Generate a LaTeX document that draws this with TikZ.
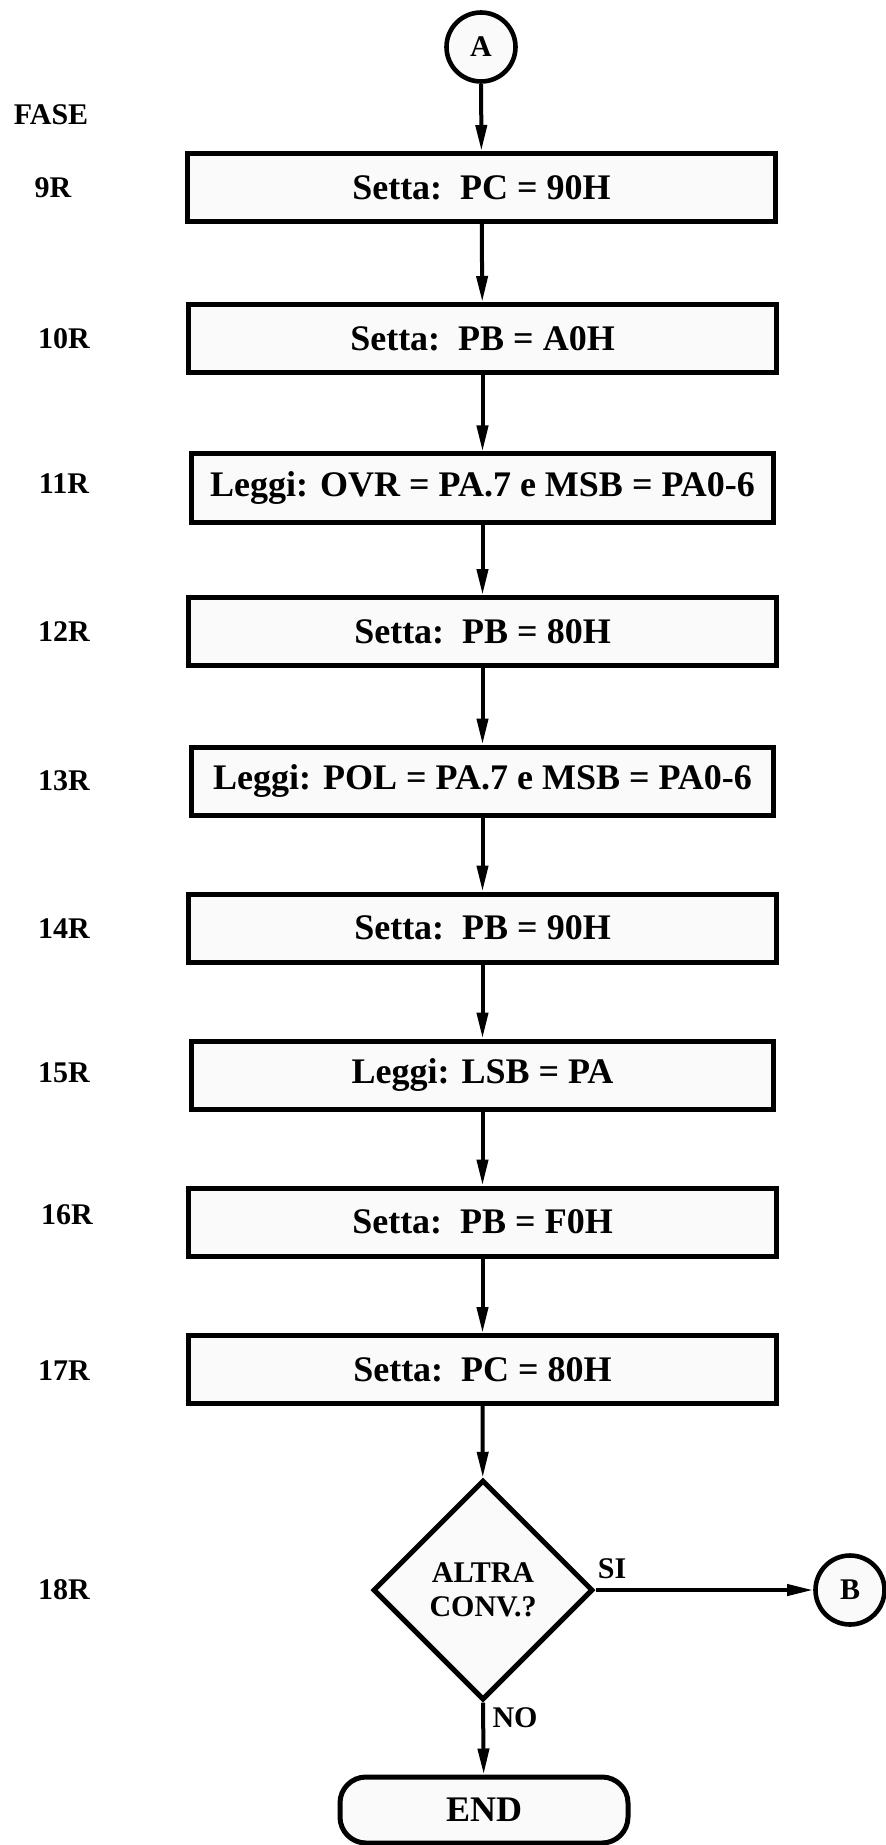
\documentclass[tikz,border=0pt]{standalone}
\usepackage{fontspec}
\setmainfont{Liberation Serif}
\usetikzlibrary{arrows.meta,shapes.geometric}
\tikzset{
  stepbox/.style={rectangle, draw=black, fill=gray!4, line width=2.5pt, minimum width=294pt, minimum height=34pt, inner sep=1pt, font=\bfseries\fontsize{18}{20}\selectfont},
  narrowbox/.style={stepbox, minimum width=291pt},
  fase/.style={font=\bfseries\fontsize{15}{17}\selectfont, inner sep=0pt},
  conn/.style={circle, draw=black, fill=gray!4, line width=2.3pt, minimum size=34.5pt, inner sep=0pt, font=\bfseries\fontsize{15}{17}\selectfont},
  decision/.style={diamond, aspect=1, draw=black, fill=gray!4, line width=2.5pt, minimum size=110pt, inner sep=0pt, align=center, font=\bfseries\fontsize{15}{17}\selectfont},
  terminal/.style={rectangle, rounded corners=13pt, draw=black, fill=gray!4, line width=2.5pt, minimum width=144pt, minimum height=33pt, font=\bfseries\fontsize{18}{20}\selectfont},
  arrow/.style={-{Triangle[length=13pt, width=5.5pt]}, line width=2pt},
  lbl/.style={font=\bfseries\fontsize{15}{17}\selectfont, inner sep=0pt}
}
\begin{document}
\begin{tikzpicture}[x=0.5pt, y=-0.5pt]
  \useasboundingbox (0,0) rectangle (885,1845);
  \node[conn] (A) at (481,47) {A};
  \node[fase] (lfase) at (51,115) {FASE};
  \node[stepbox] (b9) at (481.5,187.5) {Setta:\ \ PC = 90H};
  \node[fase] (l9) at (53,188) {9R};
  \node[stepbox] (b10) at (482.5,338.5) {Setta:\ \ PB = A0H};
  \node[fase] (l10) at (64,339) {10R};
  \node[narrowbox] (b11) at (482.5,488) {Leggi: OVR = PA.7 e MSB = PA0-6};
  \node[fase] (l11) at (64,484) {11R};
  \node[stepbox] (b12) at (482.5,631.5) {Setta:\ \ PB = 80H};
  \node[fase] (l12) at (64,632) {12R};
  \node[narrowbox] (b13) at (482.5,781) {Leggi: POL = PA.7 e MSB = PA0-6};
  \node[fase] (l13) at (64,781) {13R};
  \node[stepbox] (b14) at (482.5,928) {Setta:\ \ PB = 90H};
  \node[fase] (l14) at (64,929) {14R};
  \node[narrowbox] (b15) at (482.5,1075) {Leggi: LSB = PA};
  \node[fase] (l15) at (64,1073) {15R};
  \node[stepbox] (b16) at (482.5,1222) {Setta:\ \ PB = F0H};
  \node[fase] (l16) at (67,1215) {16R};
  \node[stepbox] (b17) at (482.5,1369.5) {Setta:\ \ PC = 80H};
  \node[fase] (l17) at (64,1371) {17R};
  \node[decision] (q) at (483,1590) {ALTRA\\CONV.?};
  \node[fase] (l18) at (64,1590) {18R};
  \node[conn] (B) at (850,1590) {B};
  \node[terminal] (e) at (484,1810) {END};
  \node[lbl] (si) at (612,1569) {SI};
  \node[lbl] (no) at (515,1718) {NO};
  \draw[arrow] (A)--(b9); \draw[arrow] (b9)--(b10); \draw[arrow] (b10)--(b11);
  \draw[arrow] (b11)--(b12); \draw[arrow] (b12)--(b13); \draw[arrow] (b13)--(b14);
  \draw[arrow] (b14)--(b15); \draw[arrow] (b15)--(b16); \draw[arrow] (b16)--(b17);
  \draw[arrow] (b17)--(q); \draw[arrow] (q.east)--(B); \draw[arrow] (q.south)--(e);
\end{tikzpicture}
\end{document}
